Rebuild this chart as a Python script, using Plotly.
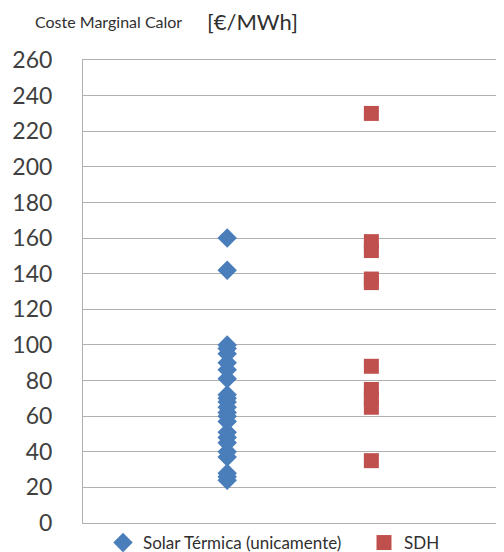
import plotly.graph_objects as go

solar_vals = [160, 142, 100, 98, 95, 90, 86, 81, 72, 70, 68, 65, 62, 60, 57, 51, 48, 45, 40, 37, 28, 26, 24]
sdh_vals = [230, 158, 153, 137, 135, 88, 75, 70, 65, 35]
series_names = ["Solar Térmica (unicamente)", "SDH"]
y_ticks = list(range(0, 261, 20))

FONT = "Lato, 'Open Sans', sans-serif"
OFF = 8  # page body margin
W, H = 504 - OFF, 552 - OFF
L, R, T, B = 83 - OFF, 0, 60 - OFF, 552 - 523
pw, ph = W - L - R, H - T - B

def px_x(px):
    return (px - OFF - L) / pw

def px_y(py):
    return 1 + (T - (py - OFF)) / ph

fig = go.Figure()
fig.add_trace(go.Scatter(
    x=[1] * len(solar_vals), y=solar_vals, mode="markers", name=series_names[0],
    marker=dict(symbol="diamond", size=15, color="#4A7EBB"), legend="legend",
))
fig.add_trace(go.Scatter(
    x=[2] * len(sdh_vals), y=sdh_vals, mode="markers", name=series_names[1],
    marker=dict(symbol="square", size=15, color="#C0504D"), legend="legend2",
))

leg_common = dict(orientation="h", yanchor="middle", xanchor="left", y=px_y(543),
                  font=dict(size=17, color="#303030", family=FONT),
                  itemwidth=30, bgcolor="rgba(0,0,0,0)")

fig.update_layout(
    width=W, height=H,
    margin=dict(l=L, r=R, t=T, b=B, autoexpand=False),
    paper_bgcolor="white", plot_bgcolor="white",
    font=dict(family=FONT, color="#404040"),
    showlegend=True,
    legend=dict(x=px_x(103), **leg_common),
    legend2=dict(x=px_x(364), **leg_common),
    xaxis=dict(range=[0, 2.92], showticklabels=False, showgrid=False, zeroline=False,
               showline=True, linecolor="#B0B0B0", linewidth=1, mirror=True, ticks="",
               automargin=False),
    yaxis=dict(range=[0, 260], tickvals=y_ticks, showgrid=True, gridcolor="#B0B0B0",
               gridwidth=1, zeroline=False, showline=True, linecolor="#B0B0B0", linewidth=1,
               tickfont=dict(size=23, color="#404040", family=FONT), ticklabelstandoff=25,
               automargin=False),
    annotations=[
        dict(text="Coste Marginal Calor", x=px_x(34), y=px_y(22), xref="paper", yref="paper",
             showarrow=False, xanchor="left", yanchor="middle", borderpad=0,
             font=dict(size=16, color="#303030", family=FONT)),
        dict(text="[€/MWh]", x=px_x(206), y=px_y(22), xref="paper", yref="paper",
             showarrow=False, xanchor="left", yanchor="middle", borderpad=0,
             font=dict(size=22, color="#303030", family=FONT)),
    ],
)

fig.write_html("out.html")
